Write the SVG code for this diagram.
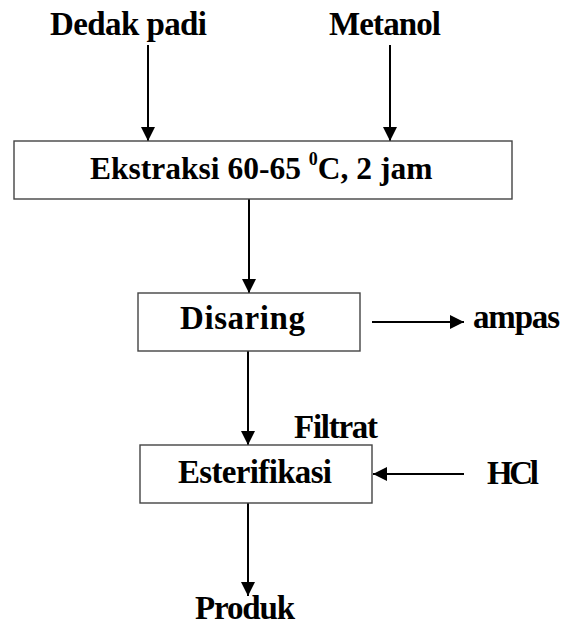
<svg xmlns="http://www.w3.org/2000/svg" width="562" height="625" viewBox="0 0 562 625">
<style>
.t{font-family:'Liberation Serif','DejaVu Serif',serif;font-weight:700;font-size:33px;fill:#000}
.box{fill:#fff;stroke:#444;stroke-width:1.4}
.c{stroke:#000;stroke-width:2;fill:none;marker-end:url(#ah)}
</style>
<defs>
<marker id="ah" markerUnits="userSpaceOnUse" markerWidth="16" markerHeight="16" refX="14" refY="7" orient="auto">
<path d="M0,0 L14,7 L0,14 z" fill="#000"/>
</marker>
</defs>
<rect width="562" height="625" fill="#fff"/>
<g id="connectors">
<line class="c" x1="148" y1="45" x2="148" y2="141"/>
<line class="c" x1="390" y1="45" x2="390" y2="141"/>
<line class="c" x1="249" y1="199" x2="249" y2="293"/>
<line class="c" x1="372" y1="322" x2="464" y2="322"/>
<line class="c" x1="248" y1="351" x2="248" y2="445"/>
<line class="c" x1="464" y1="474" x2="373" y2="474"/>
<line class="c" x1="248" y1="503" x2="248" y2="596"/>
</g>
<g id="dedak"><text class="t" x="50" y="35" textLength="157">Dedak padi</text></g>
<g id="metanol"><text class="t" x="329" y="35" textLength="112">Metanol</text></g>
<g id="ekstraksi">
<rect class="box" x="14" y="141" width="498" height="58"/>
<text class="t" x="90" y="179" style="font-size:31.5px">Ekstraksi 60-65 <tspan style="font-size:18px" dy="-14">0</tspan><tspan dy="14">C, 2 jam</tspan></text>
</g>
<g id="disaring">
<rect class="box" x="138" y="293" width="222" height="58"/>
<text class="t" x="180" y="329" textLength="125">Disaring</text>
</g>
<g id="ampas"><text class="t" x="473" y="328" textLength="87">ampas</text></g>
<g id="filtrat"><text class="t" x="294" y="438" textLength="84">Filtrat</text></g>
<g id="esterifikasi">
<rect class="box" x="140" y="445" width="232" height="58"/>
<text class="t" x="178" y="483" textLength="154">Esterifikasi</text>
</g>
<g id="hcl"><text class="t" x="487" y="484" textLength="52">HCl</text></g>
<g id="produk"><text class="t" x="195" y="619" textLength="100">Produk</text></g>
</svg>
